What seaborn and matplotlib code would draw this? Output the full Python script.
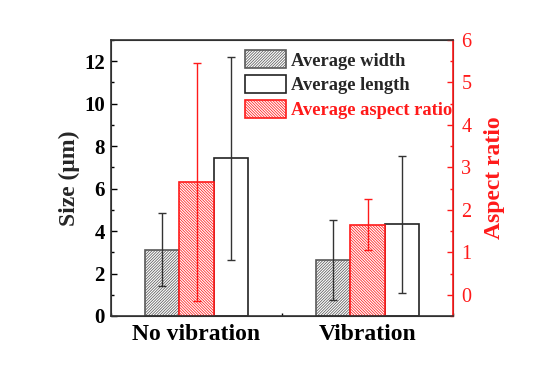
import numpy as np
import pandas as pd
import seaborn as sns
import matplotlib.pyplot as plt
from matplotlib.patches import Patch
from matplotlib.ticker import MultipleLocator

sns.set_style("ticks")
plt.rcParams['font.family'] = ['Liberation Serif', 'DejaVu Serif']
plt.rcParams['hatch.linewidth'] = 0.55

#--------------------------------------------------------------------------------------------------
# values
groups = ["No vibration", "Vibration"]
width_mean = [3.13, 2.64]
width_err = [1.72, 1.88]
length_mean = [7.42, 4.31]
length_err = [4.78, 3.24]
aspect_mean = [2.65, 1.65]
aspect_err = [2.80, 0.60]

levels = ["Average width", "Average aspect ratio", "Average length"]
red = "#ff1a1a"
hatch_w = "/" * 12
hatch_a = "\\" * 12

# every axis gets all three hue levels so the dodge is the same; the series
# belonging to the other axis is set to zero and hidden afterwards
size_df = pd.DataFrame({
	"group": groups * 3,
	"kind": ["Average width"] * 2 + ["Average aspect ratio"] * 2 + ["Average length"] * 2,
	"value": width_mean + [0, 0] + length_mean,
})
aspect_df = pd.DataFrame({
	"group": groups * 3,
	"kind": ["Average width"] * 2 + ["Average aspect ratio"] * 2 + ["Average length"] * 2,
	"value": [0, 0] + aspect_mean + [0, 0],
})

fig = plt.figure(figsize=(5.54, 3.67), dpi=100)
ax = fig.add_axes([0.2004, 0.139, 0.6173, 0.752])
ax2 = ax.twinx()

ax.set_xlim(-0.5, 1.5)
ax.set_ylim(0, 13)
ax2.set_ylim(-0.5, 6)

pal = {k: "white" for k in levels}
sns.barplot(data=size_df, x="group", y="value", hue="kind", hue_order=levels, order=groups,
			palette=pal, width=0.6, errorbar=None, legend=False, ax=ax, saturation=1)
sns.barplot(data=aspect_df, x="group", y="value", hue="kind", hue_order=levels, order=groups,
			palette=pal, width=0.6, errorbar=None, legend=False, ax=ax2, saturation=1)

ebar = dict(lw=1, capsize=3, capthick=1)
for p in ax.patches:
	cx = p.get_x() + p.get_width() / 2
	gi = int(round(cx))
	off = cx - gi
	p.set_linewidth(1.2)
	if off < -0.05:
		p.set_hatch(hatch_w)
		p.set_edgecolor("#5a5a5a")
		ax.errorbar(cx, width_mean[gi], yerr=width_err[gi], color="#333333", **ebar)
	elif off > 0.05:
		p.set_edgecolor("#222222")
		ax.errorbar(cx, length_mean[gi], yerr=length_err[gi], color="#333333", **ebar)
	else:
		p.set_visible(False)

# aspect ratio bars reach down to the bottom of the plot, not to 0 of their axis
floor = ax2.get_ylim()[0]
for p in ax2.patches:
	cx = p.get_x() + p.get_width() / 2
	gi = int(round(cx))
	off = cx - gi
	if abs(off) < 0.05:
		p.set_y(floor)
		p.set_height(aspect_mean[gi] - floor)
		p.set_linewidth(1.2)
		p.set_edgecolor(red)
		p.set_hatch(hatch_a)
		ax2.errorbar(cx, aspect_mean[gi], yerr=aspect_err[gi], color=red, **ebar)
	else:
		p.set_visible(False)

ax.set_xlim(-0.5, 1.5)
ax.set_ylim(0, 13)
ax2.set_ylim(-0.5, 6)

ax.yaxis.set_major_locator(MultipleLocator(2))
ax.yaxis.set_minor_locator(MultipleLocator(1))
ax.xaxis.set_minor_locator(MultipleLocator(0.5))
ax2.yaxis.set_major_locator(MultipleLocator(1))
ax2.yaxis.set_minor_locator(MultipleLocator(0.5))

ax.tick_params(axis="both", which="both", direction="in", width=1, colors="black")
ax.tick_params(axis="both", which="major", length=4, labelsize=15)
ax.tick_params(axis="both", which="minor", length=2.5)
ax.tick_params(axis="x", pad=6)
ax.tick_params(axis="y", pad=4.5, right=False, top=False)
ax2.tick_params(axis="y", which="both", direction="in", colors=red, width=1, labelsize=14.5, pad=6)
ax2.tick_params(axis="y", which="major", length=4)
ax2.tick_params(axis="y", which="minor", length=2.5)

for lab in ax.get_yticklabels():
	lab.set_fontweight("bold")
ax.set_xticks([0, 1])
ax.set_xticklabels(groups, fontsize=17, fontweight="bold")

for s in ["left", "bottom", "top"]:
	ax2.spines[s].set_color("#333333")
	ax2.spines[s].set_linewidth(1.2)
ax2.spines["right"].set_color(red)
ax2.spines["right"].set_linewidth(1.2)

ax.set_xlabel("")
ax.set_ylabel("Size (μm)", fontsize=17, fontweight="bold", labelpad=3)
ax2.set_ylabel("Aspect ratio", fontsize=17, fontweight="bold", color=red, labelpad=9)

handles = [
	Patch(facecolor="white", edgecolor="#5a5a5a", hatch=hatch_w, lw=1.2),
	Patch(facecolor="white", edgecolor="#222222", lw=1.2),
	Patch(facecolor="white", edgecolor=red, hatch=hatch_a, lw=1.2),
]
leg = ax2.legend(handles, ["Average width", "Average length", "Average aspect ratio"],
				 loc="upper left", bbox_to_anchor=(0.392, 0.962), frameon=False,
				 prop={"weight": "bold", "size": 13.3}, handlelength=2.2, handleheight=1.1,
				 handletextpad=0.3, labelspacing=0.3, borderaxespad=0, borderpad=0)
leg.get_texts()[2].set_color(red)
for t in leg.get_texts():
	t.set_clip_box(ax2.bbox)
	t.set_clip_on(True)

fig.savefig("out.png", dpi=100)
